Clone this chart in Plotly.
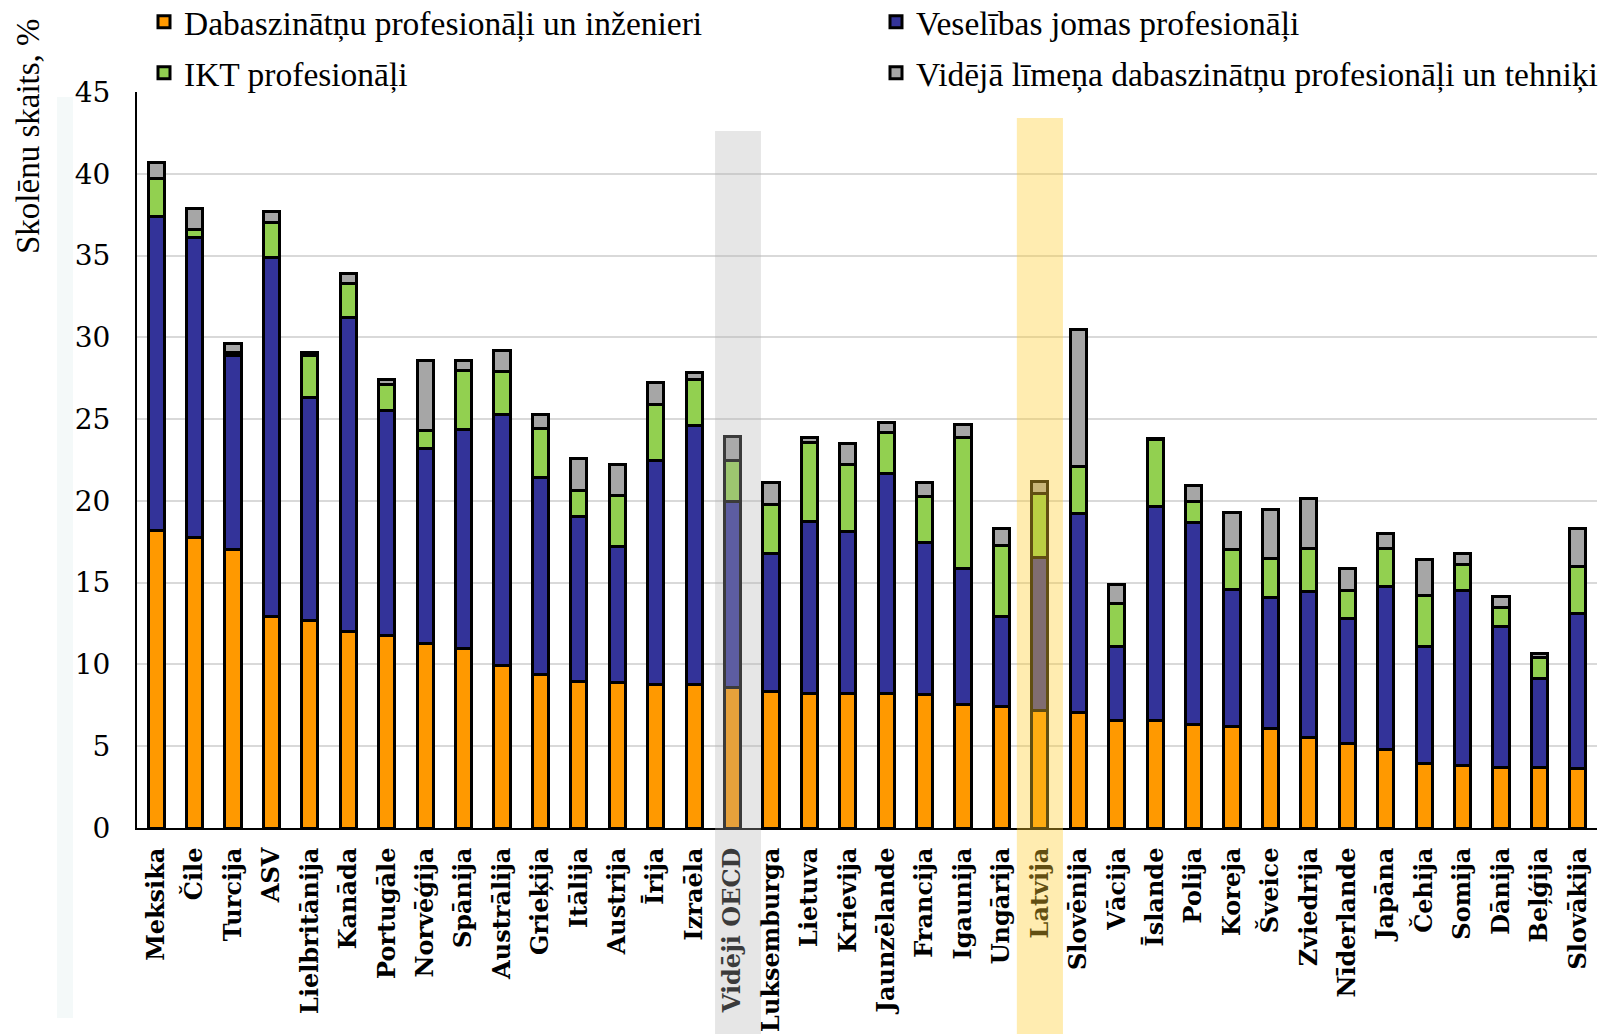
import plotly.graph_objects as go

# Countries (OECD members + partners), sorted as published
countries = [
    "Meksika", "Čile", "Turcija", "ASV", "Lielbritānija", "Kanāda", "Portugāle",
    "Norvēģija", "Spānija", "Austrālija", "Grieķija", "Itālija", "Austrija", "Īrija",
    "Izraēla", "Vidēji OECD", "Luksemburga", "Lietuva", "Krievija", "Jaunzēlande",
    "Francija", "Igaunija", "Ungārija", "Latvija", "Slovēnija", "Vācija", "Īslande",
    "Polija", "Koreja", "Šveice", "Zviedrija", "Nīderlande", "Japāna", "Čehija",
    "Somija", "Dānija", "Beļģija", "Slovākija",
]

# Share of students expecting each occupation, %
science_engineering = [
    18.2, 17.75, 17.0, 12.95, 12.7, 12.0, 11.8, 11.3, 11.0, 9.95, 9.4, 8.95, 8.9, 8.75,
    8.75, 8.6, 8.35, 8.25, 8.25, 8.2, 8.15, 7.55, 7.45, 7.2, 7.05, 6.55, 6.55, 6.3,
    6.2, 6.1, 5.55, 5.15, 4.8, 3.95, 3.8, 3.7, 3.7, 3.65,
]
health = [
    19.2, 18.35, 11.9, 21.95, 13.6, 19.2, 13.7, 11.9, 13.35, 15.35, 12.0, 10.1, 8.3, 13.75,
    15.85, 11.35, 8.45, 10.5, 9.85, 13.5, 9.3, 8.3, 5.5, 9.35, 12.2, 4.55, 13.1, 12.35,
    8.4, 8.0, 8.9, 7.65, 9.95, 7.15, 10.7, 8.6, 5.45, 9.45,
]
ict = [
    2.3, 0.5, 0.2, 2.1, 2.6, 2.1, 1.6, 1.1, 3.6, 2.6, 3.0, 1.6, 3.1, 3.4,
    2.8, 2.55, 3.0, 4.85, 4.1, 2.5, 2.8, 8.05, 4.3, 3.9, 2.85, 2.65, 4.1, 1.3,
    2.4, 2.4, 2.65, 1.7, 2.35, 3.1, 1.6, 1.2, 1.3, 2.9,
]
technicians = [
    1.0, 1.3, 0.5, 0.7, 0.2, 0.6, 0.3, 4.3, 0.65, 1.3, 0.9, 1.95, 1.95, 1.35,
    0.45, 1.45, 1.3, 0.3, 1.3, 0.6, 0.9, 0.75, 1.05, 0.75, 8.4, 1.15, 0.05, 1.0,
    2.3, 2.95, 3.05, 1.35, 0.9, 2.2, 0.7, 0.65, 0.2, 2.3,
]

series = [
    ("Dabaszinātņu profesionāļi un inženieri", science_engineering, "#FF9900", "legend"),
    ("Veselības jomas profesionāļi", health, "#333399", "legend"),
    ("IKT profesionāļi", ict, "#92D050", "legend2"),
    ("Vidējā līmeņa dabaszinātņu profesionāļi un tehniķi", technicians, "#A6A6A6", "legend2"),
]

W, H = 1601, 1034
M_L, M_R, M_T, M_B = 137, 4, 92, 206
plot_h = H - M_T - M_B
plot_w = W - M_L - M_R


def py(px_from_top):
    """Convert a pixel row (from the top of the figure) to paper y."""
    return (H - M_B - px_from_top) / plot_h


def px(px_from_left):
    """Convert a pixel column (from the left of the figure) to paper x."""
    return (px_from_left - M_L) / plot_w


fig = go.Figure()
for i, (name, vals, color, leg) in enumerate(series):
    fig.add_trace(go.Bar(
        x=countries, y=vals, name=name,
        marker=dict(color=color, line=dict(color="black", width=3)),
        width=0.42, legend=leg,
        legendwidth=687 if i in (0, 2) else None,
    ))

legend_font = dict(family="Liberation Serif", size=33.5, color="black")
fig.update_layout(
    width=W, height=H,
    barmode="stack",
    plot_bgcolor="white", paper_bgcolor="white",
    margin=dict(l=M_L, r=M_R, t=M_T, b=M_B, autoexpand=False),
    showlegend=True,
    legend=dict(orientation="h", x=px(144), xanchor="left", y=py(22), yanchor="middle",
                font=legend_font, bgcolor="rgba(0,0,0,0)", entrywidthmode="pixels",
                traceorder="normal"),
    legend2=dict(orientation="h", x=px(144), xanchor="left", y=py(73), yanchor="middle",
                 font=legend_font, bgcolor="rgba(0,0,0,0)", entrywidthmode="pixels",
                 traceorder="normal"),
    xaxis=dict(
        type="category", range=[-0.5, len(countries) - 0.5],
        tickangle=-90, tickfont=dict(family="DejaVu Serif", size=24, color="black", weight="bold"),
        showline=True, linecolor="black", linewidth=2, ticks="", ticklabelstandoff=8,
        showgrid=False,
    ),
    yaxis=dict(
        range=[0, 45], dtick=5, tick0=0,
        tickfont=dict(family="DejaVu Serif", size=28, color="black"),
        showline=True, linecolor="black", linewidth=2, ticks="", ticklabelstandoff=19,
        showgrid=True, gridcolor="#D9D9D9", gridwidth=1.5, zeroline=False,
    ),
    font=dict(family="Liberation Serif", color="black"),
)

# Axis title placed near the top of the value axis
fig.add_annotation(
    text="Skolēnu skaits, %", textangle=-90,
    xref="paper", yref="paper", x=px(28), y=py(136),
    xanchor="center", yanchor="middle", showarrow=False,
    font=dict(family="Liberation Serif", size=33, color="black"),
)

# Faint strip behind the value labels
fig.add_shape(type="rect", xref="paper", yref="paper", layer="below",
              x0=px(57), x1=px(73), y0=py(1018), y1=py(97),
              fillcolor="#F4F9F9", line=dict(width=0))

# Highlight bands over the OECD average and Latvia
oecd = countries.index("Vidēji OECD")
lv = countries.index("Latvija")
fig.add_shape(type="rect", xref="x", yref="paper", layer="above",
              x0=oecd - 0.455, x1=oecd + 0.74, y0=py(H), y1=py(131),
              fillcolor="rgba(180,180,180,0.33)", line=dict(width=0))
fig.add_shape(type="rect", xref="x", yref="paper", layer="above",
              x0=lv - 0.6, x1=lv + 0.6, y0=py(H), y1=py(118),
              fillcolor="rgba(255,205,47,0.38)", line=dict(width=0))

fig.write_html("out.html")
